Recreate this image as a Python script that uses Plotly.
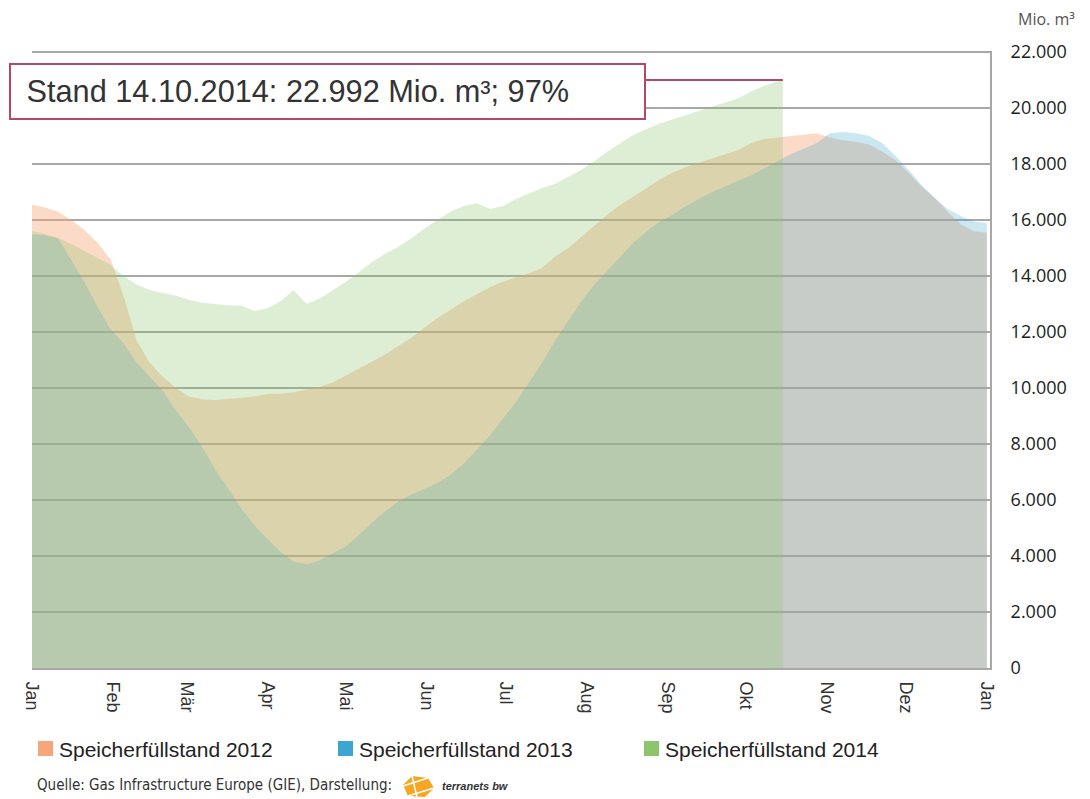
import plotly.graph_objects as go

# day of year of each reading (every 5 days, plus 31.12.)
DAYS = list(range(0, 365, 5)) + [365]
# 2014 readings end on 14.10.2014 (day 287)
DAYS_2014 = list(range(0, 290, 5)) + [287]

# Speicherfüllstand in Mio. m³
FILL_2012 = [
    16550, 16450, 16300, 16000, 15650, 15200, 14600, 13300, 11700, 10900,
    10400, 10000, 9700, 9600, 9570, 9600, 9650, 9700, 9800, 9800,
    9850, 9950, 10050, 10200, 10450, 10700, 10950, 11200, 11500, 11800,
    12150, 12500, 12800, 13100, 13350, 13600, 13800, 13950, 14100, 14300,
    14700, 15000, 15400, 15800, 16200, 16550, 16850, 17150, 17450, 17700,
    17900, 18050, 18200, 18350, 18500, 18750, 18900, 18950, 19000, 19050,
    19100, 18950, 18850, 18800, 18700, 18450, 18150, 17700, 17200, 16800,
    16300, 15850, 15600, 15550,
]
FILL_2013 = [
    15500, 15450, 15350, 14600, 13800, 12900, 12100, 11600, 10900, 10400,
    9900, 9200, 8600, 7900, 7100, 6400, 5700, 5100, 4600, 4150,
    3800, 3700, 3850, 4100, 4350, 4750, 5200, 5600, 5950, 6200,
    6400, 6600, 6900, 7300, 7800, 8300, 8900, 9500, 10200, 10900,
    11700, 12400, 13100, 13700, 14200, 14700, 15200, 15600, 15950, 16200,
    16500, 16750, 17000, 17200, 17400, 17600, 17850, 18100, 18350, 18550,
    18750, 19100, 19150, 19100, 19000, 18750, 18300, 17800, 17250, 16800,
    16400, 16150, 15950, 15900,
]
FILL_2014 = [
    15600, 15500, 15350, 15150, 14900, 14650, 14400, 14000, 13700, 13500,
    13400, 13300, 13150, 13050, 13000, 12950, 12950, 12750, 12850, 13100,
    13500, 13000, 13200, 13500, 13800, 14150, 14500, 14800, 15050, 15350,
    15700, 16000, 16300, 16500, 16600, 16400, 16500, 16750, 16950, 17150,
    17300, 17550, 17800, 18100, 18450, 18750, 19050, 19250, 19450, 19600,
    19750, 19900, 20050, 20200, 20350, 20600, 20800, 20950, 21000,
]

MONTH_DAYS = [0, 31, 59, 90, 120, 151, 181, 212, 243, 273, 304, 334, 365]
MONTH_LABELS = ['Jan', 'Feb', 'Mär', 'Apr', 'Mai', 'Jun', 'Jul', 'Aug',
                'Sep', 'Okt', 'Nov', 'Dez', 'Jan']
Y_TICKS = list(range(0, 22001, 2000))

COLORS = {
    '2012': '#F5A779',
    '2013': '#3DA6D0',
    '2014': '#8DC46C',
    'box': '#B24A66',
    'grid': '#A8A8A8',
    'text': '#333333',
}

# page has an 8px body margin, so the figure is drawn 8px in and down
PAGE_OFFSET = 8
W, H = 1090 - PAGE_OFFSET, 799 - PAGE_OFFSET
# plot area in screen pixels, used to place the decorations
L, R, T, B = 32, 990, 51, 668
X_MAX = 366.2
Y_MAX = 22040


def px(x):
    return (x - L) / (R - L)


def py(y):
    return (B - y) / (B - T)


def rgba(hex_color, a):
    h = hex_color.lstrip('#')
    r, g, b = (int(h[i:i + 2], 16) for i in (0, 2, 4))
    return f'rgba({r},{g},{b},{a})'


fig = go.Figure()

series = [
    ('Speicherfüllstand 2012', DAYS, FILL_2012, COLORS['2012'], 0.42),
    ('Speicherfüllstand 2013', DAYS, FILL_2013, COLORS['2013'], 0.27),
    ('Speicherfüllstand 2014', DAYS_2014, FILL_2014, COLORS['2014'], 0.29),
]

for name, days, vals, color, alpha in series:
    fig.add_trace(go.Scatter(
        x=days,
        y=vals,
        mode='lines',
        fill='tozeroy',
        fillcolor=rgba(color, alpha),
        line=dict(width=0, color=color),
        name=name,
        showlegend=False,
        hovertemplate='%{y:,.0f} Mio. m³<extra>' + name + '</extra>',
    ))

# line from the box to the latest 2014 value
fig.add_shape(
    type='line', xref='x', yref='y',
    x0=(645 - L) / (R - L) * X_MAX, x1=DAYS_2014[-1],
    y0=FILL_2014[-1], y1=FILL_2014[-1],
    line=dict(color=COLORS['box'], width=2),
)

fig.add_annotation(
    xref='paper', yref='paper',
    x=px(9), y=py(63),
    xanchor='left', yanchor='top',
    text='&nbsp;Stand 14.10.2014: 22.992 Mio. m³; 97%',
    showarrow=False,
    align='left',
    width=619, height=39,
    valign='middle',
    bgcolor='white',
    bordercolor=COLORS['box'], borderwidth=2, borderpad=7,
    font=dict(family='Liberation Sans, Arial', size=30.7, color=COLORS['text']),
)

fig.add_annotation(
    xref='paper', yref='paper',
    x=px(1016), y=py(19),
    xanchor='left', yanchor='middle',
    text='Mio. m³', showarrow=False,
    font=dict(family='Open Sans', size=16, color='#555555'),
)

# legend: colour square + label
legend_x = [38, 338, 644]
for (name, days, vals, color, alpha), lx in zip(series, legend_x):
    fig.add_shape(type='rect', xref='paper', yref='paper',
                  x0=px(lx), x1=px(lx + 15), y0=py(741), y1=py(756),
                  fillcolor=color, line=dict(width=0))
    fig.add_annotation(
        xref='paper', yref='paper',
        x=px(lx + 19), y=py(749),
        xanchor='left', yanchor='middle',
        text=name, showarrow=False,
        font=dict(family='Liberation Sans, Arial', size=21, color='#222222'),
    )

fig.add_annotation(
    xref='paper', yref='paper',
    x=px(35), y=py(785),
    xanchor='left', yanchor='middle',
    text='Quelle: Gas Infrastructure Europe (GIE), Darstellung:',
    showarrow=False,
    font=dict(family='DejaVu Sans Condensed, DejaVu Sans', size=15, color=COLORS['text']),
)

# terranets bw logo (simplified)
logo = [(412, 776), (428, 778), (434, 788), (425, 797), (408, 796), (403, 785)]
path = 'M ' + ' L '.join(f'{px(a):.4f},{py(b):.4f}' for a, b in logo) + ' Z'
fig.add_shape(type='path', xref='paper', yref='paper', path=path,
              fillcolor='#F6A623', line=dict(width=0))
for (a0, b0), (a1, b1) in [((403, 786), (428, 778)), ((412, 776), (417, 797)),
                           ((408, 796), (434, 788))]:
    fig.add_shape(type='line', xref='paper', yref='paper',
                  x0=px(a0), y0=py(b0), x1=px(a1), y1=py(b1),
                  line=dict(color='white', width=1.5))

fig.add_annotation(
    xref='paper', yref='paper',
    x=px(440), y=py(786),
    xanchor='left', yanchor='middle',
    text='<b><i>terranets bw</i></b>', showarrow=False,
    font=dict(family='Liberation Sans, Arial', size=11, color='#333333'),
)

fig.update_layout(
    width=W, height=H,
    margin=dict(l=L - PAGE_OFFSET, r=1090 - R, t=T - PAGE_OFFSET, b=799 - B,
                autoexpand=False),
    paper_bgcolor='white',
    plot_bgcolor='white',
    showlegend=False,
    separators=',.',
    xaxis=dict(
        range=[0, X_MAX],
        tickvals=MONTH_DAYS,
        ticktext=MONTH_LABELS,
        tickangle=90,
        ticks='',
        ticklabelstandoff=8,
        showgrid=False,
        showline=True,
        linecolor=COLORS['grid'],
        linewidth=2,
        zeroline=False,
        automargin=False,
        tickfont=dict(family='Liberation Sans, Arial', size=18, color=COLORS['text']),
    ),
    yaxis=dict(
        range=[0, Y_MAX],
        side='right',
        tickvals=Y_TICKS,
        tickformat=',d',
        ticks='',
        ticklabelstandoff=15,
        showgrid=True,
        gridcolor=COLORS['grid'],
        gridwidth=2,
        showline=True,
        linecolor=COLORS['grid'],
        linewidth=2,
        zeroline=False,
        automargin=False,
        tickfont=dict(family='Open Sans', size=18, color='#222222'),
    ),
)

fig.write_html('out.html')
